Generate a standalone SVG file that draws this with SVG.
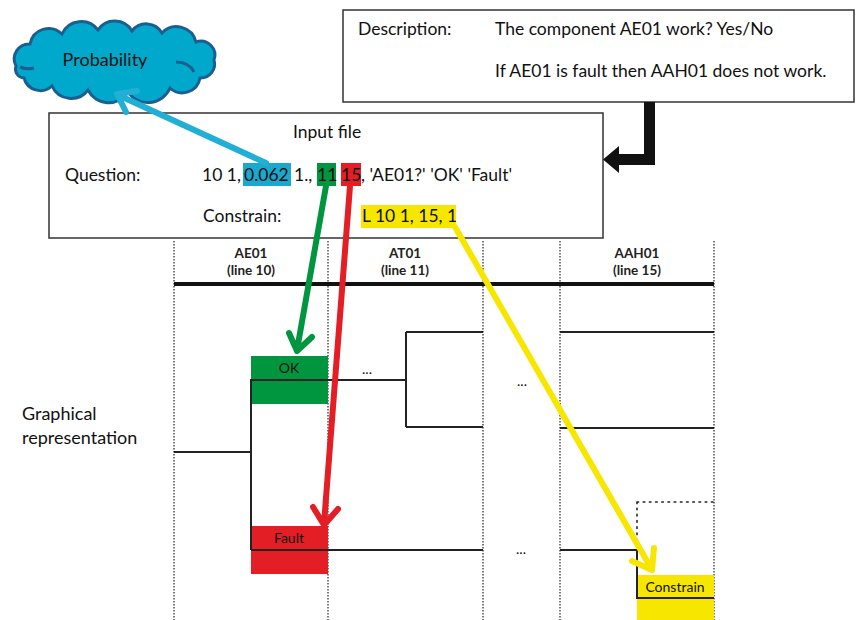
<svg xmlns="http://www.w3.org/2000/svg" width="857" height="620" viewBox="0 0 857 620">
  <style>
    .t { font-family: Lato, "Open Sans", sans-serif; font-size: 17.5px; fill: #111; }
    .h { font-family: Lato, "Open Sans", sans-serif; font-size: 13.5px; font-weight: bold; fill: #222; text-anchor: middle; }
    .s { font-family: Lato, "Open Sans", sans-serif; font-size: 14px; fill: #111; text-anchor: middle; }
    .box { fill: #fff; stroke: #333; stroke-width: 1.5; }
    .dot { stroke: #333; stroke-width: 1.3; stroke-dasharray: 1.5 1.5; fill: none; }
    .wire { stroke: #222; stroke-width: 2; fill: none; }
    .arr { fill: none; stroke-width: 6; stroke-linecap: round; stroke-linejoin: round; }
  </style>

  <!-- column separators -->
  <g id="columns">
    <line class="dot" x1="174" y1="241" x2="174" y2="620"/>
    <line class="dot" x1="328" y1="241" x2="328" y2="620"/>
    <line class="dot" x1="483" y1="241" x2="483" y2="620"/>
    <line class="dot" x1="560" y1="241" x2="560" y2="620"/>
    <line class="dot" x1="714" y1="241" x2="714" y2="620"/>
    <line x1="174" y1="284" x2="714" y2="284" stroke="#111" stroke-width="4"/>
  </g>

  <!-- column headers -->
  <g id="headers">
    <text class="h" x="251" y="258">AE01</text>
    <text class="h" x="251" y="275">(line 10)</text>
    <text class="h" x="405" y="258">AT01</text>
    <text class="h" x="405" y="275">(line 11)</text>
    <text class="h" x="637" y="258">AAH01</text>
    <text class="h" x="637" y="275">(line 15)</text>
  </g>

  <g id="graph-label">
    <text class="t" x="22" y="420" style="font-size:18px">Graphical</text>
    <text class="t" x="22" y="444" style="font-size:18px">representation</text>
  </g>

  <!-- state boxes -->
  <g id="ok">
    <rect x="251" y="356" width="77" height="48" fill="#00963f"/>
    <text class="s" x="289" y="373">OK</text>
  </g>
  <g id="fault">
    <rect x="251" y="526" width="77" height="48" fill="#e31e24"/>
    <text class="s" x="289" y="543">Fault</text>
  </g>
  <g id="constrain">
    <rect x="637" y="575" width="77" height="45" fill="#f7e600"/>
    <text class="s" x="675" y="592">Constrain</text>
    <path d="M637,502 H714 M637,502 V540" fill="none" stroke="#222" stroke-width="1.6" stroke-dasharray="1.6 4.6" stroke-linecap="round"/>
  </g>

  <!-- tree connectors -->
  <g id="connectors">
    <path class="wire" d="M174,452 H251 M251,550 V380 H406 M406,332 V427"/>
    <path class="wire" d="M406,332 H483 M406,427 H483 M560,332 H714 M560,428 H714"/>
    <path class="wire" d="M251,550 H483 M560,550 H637 V598 H714"/>
    <text class="s" x="367" y="374">...</text>
    <text class="s" x="522" y="386">...</text>
    <text class="s" x="521" y="554">...</text>
  </g>

  <!-- description -->
  <g id="description">
    <rect class="box" x="343" y="10" width="511" height="92"/>
    <text class="t" x="358" y="35">Description:</text>
    <text class="t" x="495" y="35">The component AE01 work? Yes/No</text>
    <text class="t" x="495" y="77">If AE01 is fault then AAH01 does not work.</text>
  </g>

  <!-- input file -->
  <g id="input-file">
    <rect class="box" x="49" y="113" width="554" height="125"/>
    <rect x="243" y="163" width="48" height="23" fill="#1aa8cf"/>
    <rect x="317" y="163" width="19" height="23" fill="#00963f"/>
    <rect x="341" y="163" width="20" height="23" fill="#e31e24"/>
    <rect x="361" y="205" width="95" height="23" fill="#f7e600"/>
    <text class="t" x="327" y="138" text-anchor="middle">Input file</text>
    <text class="t" x="65" y="181">Question:</text>
    <text class="t" y="181"><tspan x="202">10 1,</tspan><tspan x="244">0.062</tspan><tspan x="294">1.,</tspan><tspan x="317">11</tspan><tspan x="341">15</tspan><tspan x="361">, 'AE01?' 'OK' 'Fault'</tspan></text>
    <text class="t" x="203" y="222">Constrain:</text>
    <text class="t" x="362" y="222">L 10 1, 15, 1</text>
  </g>

  <!-- probability cloud -->
  <g id="probability">
    <path d="M16,66 A15,15 0 0 1 30,44 A19,19 0 0 1 62,34 A21,21 0 0 1 98,30 A20,20 0 0 1 132,31 A18,18 0 0 1 162,33 A20,20 0 0 1 196,42 A14,14 0 0 1 214,60 A14,14 0 0 1 200,78 A18,18 0 0 1 170,88 A24,24 0 0 1 128,92 A23,23 0 0 1 88,90 A21,21 0 0 1 52,86 A17,17 0 0 1 24,78 A9,9 0 0 1 16,66 Z" fill="#00a9cc" stroke="#1b5f91" stroke-width="3"/>
    <path d="M20,67 Q27,70 34,68 M176,62 Q189,62 194,72" fill="none" stroke="#1b5f91" stroke-width="3"/>
    <text class="t" x="105" y="66" text-anchor="middle" style="font-size:18px">Probability</text>
  </g>

  <!-- pointer arrows -->
  <g id="arrows">
    <polygon points="644,102 655,102 655,165 619,165 619,173 603,159.5 619,146 619,154 644,154" fill="#111"/>
    <path class="arr" stroke="#22afd6" d="M266,163 L118,95 M126,112 L117,94 L137,91"/>
    <path class="arr" stroke="#00963f" stroke-width="5" d="M326,186 L297,350 M289,333 L297,351 L312,337"/>
    <path class="arr" stroke="#e31e24" d="M350,186 L324,524 M313,507 L324,525 L338,509"/>
    <path class="arr" stroke="#f7e600" d="M455,227 L651,568 M632,561 L652,570 L654,548"/>
  </g>
</svg>
